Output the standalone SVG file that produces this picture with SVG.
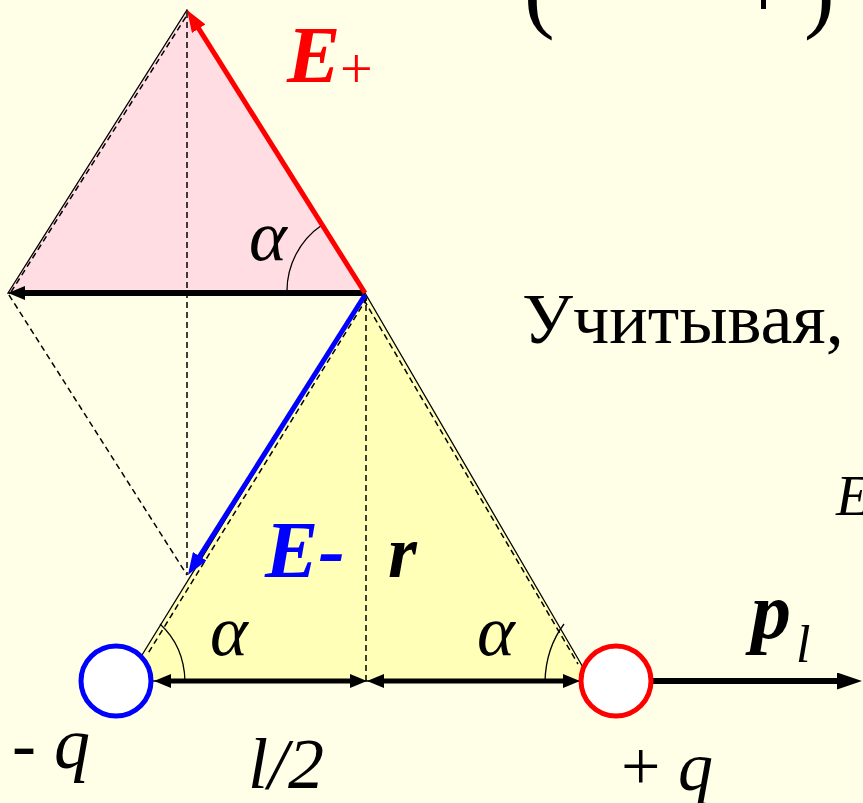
<svg xmlns="http://www.w3.org/2000/svg" width="863" height="803" viewBox="0 0 863 803">
<style>
.thin{fill:none;stroke:#000;stroke-width:1.3}
.dash{fill:none;stroke:#000;stroke-width:1.5;stroke-dasharray:6 4}
.serif{font-family:"Liberation Serif","Times New Roman",serif}
.it{font-style:italic}
.bi{font-style:italic;font-weight:bold}
</style>
<defs>
<marker id="ahK" viewBox="0 0 17 14" refX="5" refY="7" markerWidth="17" markerHeight="14" markerUnits="userSpaceOnUse" orient="auto-start-reverse"><path d="M0,0 L17,7 L0,14 z" fill="#000"/></marker>
<marker id="ahP" viewBox="0 0 25 17" refX="8" refY="8.5" markerWidth="25" markerHeight="17" markerUnits="userSpaceOnUse" orient="auto"><path d="M0,0 L25,8.5 L0,17 z" fill="#000"/></marker>
<marker id="ahR" viewBox="0 0 22 16" refX="8" refY="8" markerWidth="22" markerHeight="16" markerUnits="userSpaceOnUse" orient="auto"><path d="M0,0 L22,8 L0,16 z" fill="#f00"/></marker>
<marker id="ahB" viewBox="0 0 22 16" refX="8" refY="8" markerWidth="22" markerHeight="16" markerUnits="userSpaceOnUse" orient="auto"><path d="M0,0 L22,8 L0,16 z" fill="#00f"/></marker>
</defs>
<rect width="863" height="803" fill="#FFFFE8"/>

<g id="formula-fragment">
<text class="serif" x="524" y="21" font-size="92">(</text>
<text class="serif" x="804" y="21" font-size="92">)</text>
<rect x="761" y="0" width="5" height="9" fill="#000"/>
</g>

<g id="pink-triangle">
<polygon points="8,293 187,10 365,293" fill="#FFDDE2" stroke="#000" stroke-width="1.3"/>
<line class="dash" x1="11" y1="292" x2="189" y2="12"/>
</g>

<g id="yellow-triangle">
<polygon points="365,293 126,681 591,681" fill="#FFFFB8" stroke="#000" stroke-width="1.3"/>
<line class="dash" x1="367" y1="298" x2="147" y2="655"/>
<line class="dash" x1="364" y1="300" x2="578" y2="664"/>
</g>

<g id="construction">
<line class="dash" x1="187" y1="12" x2="187" y2="575"/>
<line class="dash" x1="9" y1="295" x2="187" y2="575"/>
<line class="dash" x1="366" y1="295" x2="366" y2="681"/>
<path class="thin" d="M287,293 A80,80 0 0 1 322,225"/>
<path class="thin" d="M185,681 Q184,646 160,624"/>
<path class="thin" d="M545,681 Q546,648 564,624"/>
</g>

<g id="connectors">
<line x1="365" y1="293" x2="20" y2="293" stroke="#000" stroke-width="6" marker-end="url(#ahK)"/>
<line x1="365" y1="293" x2="194.5" y2="21.9" stroke="#f00" stroke-width="5" marker-end="url(#ahR)"/>
<line x1="365" y1="295" x2="195.4" y2="563.1" stroke="#00f" stroke-width="5" marker-end="url(#ahB)"/>
<line x1="166" y1="681" x2="355" y2="681" stroke="#000" stroke-width="5" marker-start="url(#ahK)" marker-end="url(#ahK)"/>
<line x1="379" y1="681" x2="568" y2="681" stroke="#000" stroke-width="5" marker-start="url(#ahK)" marker-end="url(#ahK)"/>
<line x1="653" y1="681" x2="845" y2="681" stroke="#000" stroke-width="6" marker-end="url(#ahP)"/>
</g>

<g id="charge-neg">
<circle cx="116" cy="681" r="35" fill="#fff" stroke="#00f" stroke-width="5"/>
<text class="serif" x="12" y="768" font-size="72">-<tspan class="it"> q</tspan></text>
</g>

<g id="charge-pos">
<circle cx="616" cy="681" r="35" fill="#fff" stroke="#f00" stroke-width="5"/>
<text class="serif" x="621" y="790" font-size="70">+ <tspan class="it">q</tspan></text>
</g>

<g id="labels">
<text class="serif bi" x="287" y="82" font-size="80" fill="#f00">E</text>
<text class="serif" x="340" y="88" font-size="58" fill="#f00">+</text>
<text class="serif bi" x="265" y="577" font-size="80" fill="#00f">E-</text>
<text class="serif bi" x="388" y="577" font-size="74">r</text>
<text class="serif it" x="249" y="260" font-size="72">α</text>
<text class="serif it" x="210" y="655" font-size="72">α</text>
<text class="serif it" x="477" y="655" font-size="72">α</text>
<text class="serif bi" x="751" y="638" font-size="80">p</text>
<text class="serif it" x="796" y="662" font-size="52">l</text>
<text class="serif it" x="248" y="788" font-size="72">l/2</text>
<text class="serif" x="522" y="343" font-size="72">Учитывая,</text>
<text class="serif it" x="836" y="515" font-size="56">E</text>
</g>
</svg>
